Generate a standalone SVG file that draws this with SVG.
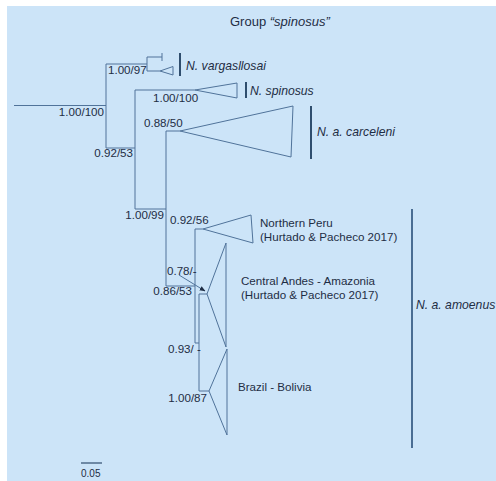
<svg xmlns="http://www.w3.org/2000/svg" width="496" height="481" viewBox="0 0 496 481">
<style>
  .br{fill:none;stroke:#50739a;stroke-width:1}
  .bar{fill:none;stroke:#2f4e6e;stroke-width:2}
  .t{font-family:"Liberation Sans",Arial,sans-serif;font-size:11.6px;fill:#1e2d44}
  .i{font-style:italic;font-size:12.2px}
  .s{font-size:10px}
  .ti{font-size:13px}
</style>
<defs>
  <marker id="ah" viewBox="0 0 10 10" refX="9" refY="5" markerWidth="6" markerHeight="6" orient="auto">
    <path d="M0,1 L10,5 L0,9 z" fill="#1e2d44"/>
  </marker>
</defs>
<rect x="7" y="6" width="489" height="475" fill="#cce4f8"/>
<text class="t ti" x="230" y="26">Group <tspan font-style="italic">“spinosus”</tspan></text>
<g id="connectors">
  <path class="br" d="M14,105.5 H106 M106,64 V148 M106,64 H147 M147,57 V71 M147,57 H162 M162,53 V61 M147,71 H160"/>
  <path class="br" d="M106,148 H135 M135,90 V209 M135,90 H195 M135,209 H166 M166,131 V286 M166,131 H180 M166,286 H195"/>
  <path class="br" d="M195,229 V343 M195,229 H203 M195,343 H199 M199,294 V391 M199,294 H207 M199,391 H209"/>
  <line class="br" x1="179" y1="275" x2="205" y2="291" stroke="#1e2d44" marker-end="url(#ah)"/>
  <line x1="81" y1="463" x2="102" y2="463" stroke="#2f4e6e" stroke-width="1.2"/>
</g>
<g id="vargasllosai">
  <path class="br" d="M160,71 L173,66.5 L173,75 Z"/>
  <line class="bar" x1="180" y1="53" x2="180" y2="76"/>
  <text class="t i" x="186" y="70">N. vargasllosai</text>
</g>
<g id="spinosus">
  <path class="br" d="M195,90 L237,83 L237,98 Z"/>
  <line class="bar" x1="246" y1="82" x2="246" y2="98"/>
  <text class="t i" x="250" y="95">N. spinosus</text>
</g>
<g id="carceleni">
  <path class="br" d="M180,131 L293,106 L291,157 Z"/>
  <line class="bar" x1="311" y1="106" x2="311" y2="159"/>
  <text class="t i" x="317" y="136">N. a. carceleni</text>
</g>
<g id="northern-peru">
  <path class="br" d="M203,229 L251,215 L253,243 Z"/>
  <text class="t" x="260" y="227">Northern Peru</text>
  <text class="t" x="260" y="241">(Hurtado &amp; Pacheco 2017)</text>
</g>
<g id="central-andes">
  <path class="br" d="M207,294 L226,243 L226,347 Z"/>
  <text class="t" x="241" y="285">Central Andes - Amazonia</text>
  <text class="t" x="241" y="299">(Hurtado &amp; Pacheco 2017)</text>
</g>
<g id="brazil-bolivia">
  <path class="br" d="M209,391 L227,349 L227,435 Z"/>
  <text class="t" x="238" y="391">Brazil - Bolivia</text>
</g>
<g id="amoenus">
  <line x1="412" y1="209" x2="412" y2="448" stroke="#4a6d93" stroke-width="2"/>
  <text class="t i" x="416" y="309">N. a. amoenus</text>
</g>
<g id="support-labels">
  <text class="t" x="104" y="116" text-anchor="end">1.00/100</text>
  <text class="t" x="108" y="74">1.00/97</text>
  <text class="t" x="133" y="157" text-anchor="end">0.92/53</text>
  <text class="t" x="153" y="102">1.00/100</text>
  <text class="t" x="164" y="219" text-anchor="end">1.00/99</text>
  <text class="t" x="144" y="127">0.88/50</text>
  <text class="t" x="170" y="224">0.92/56</text>
  <text class="t" x="167" y="275">0.78/-</text>
  <text class="t" x="192" y="295" text-anchor="end">0.86/53</text>
  <text class="t" x="168" y="353">0.93/ -</text>
  <text class="t" x="207" y="402" text-anchor="end">1.00/87</text>
</g>
<g id="scale">
  <text class="t s" x="81" y="477">0.05</text>
</g>
</svg>
